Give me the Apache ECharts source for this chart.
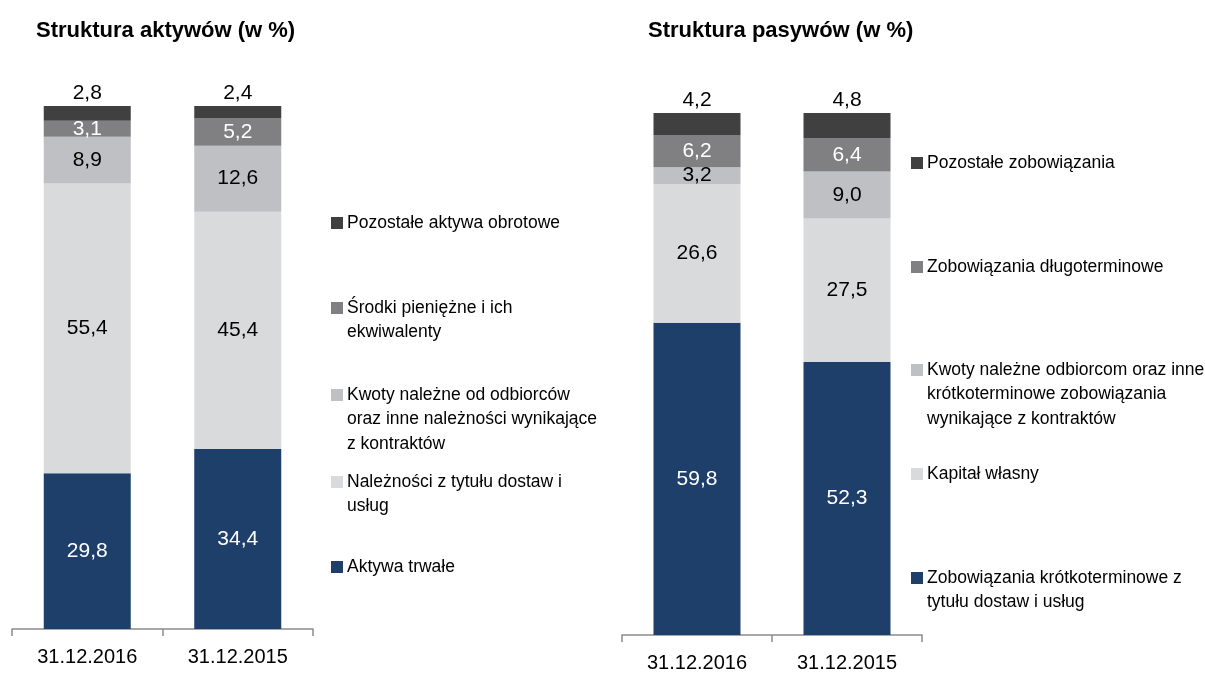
<!DOCTYPE html>
<html>
<head>
<meta charset="utf-8">
<script src="https://cdn.jsdelivr.net/npm/echarts@6/dist/echarts.min.js"></script>
<style>
  html, body { margin: 0; padding: 0; background: #fff; }
  #chart { width: 1205px; height: 673px; }
</style>
</head>
<body>
<div id="chart"></div>
<script>
// dane
const categories = ["31.12.2016", "31.12.2015"];

// aktywa (od dołu)
const aktywaTrwale = [29.8, 34.4];
const naleznosciDostawy = [55.4, 45.4];
const kwotyOdOdbiorcow = [8.9, 12.6];
const srodkiPieniezne = [3.1, 5.2];
const pozostaleAktywa = [2.8, 2.4];

// pasywa (od dołu)
const zobKrotkoterminowe = [59.8, 52.3];
const kapitalWlasny = [26.6, 27.5];
const kwotyOdbiorcom = [3.2, 9.0];
const zobDlugoterminowe = [6.2, 6.4];
const pozostaleZob = [4.2, 4.8];

const namesAktywa = [
  "Aktywa trwałe",
  "Należności z tytułu dostaw i\nusług",
  "Kwoty należne od odbiorców\noraz inne należności wynikające\nz kontraktów",
  "Środki pieniężne i ich\nekwiwalenty",
  "Pozostałe aktywa obrotowe",
];
const namesPasywa = [
  "Zobowiązania krótkoterminowe z\ntytułu dostaw i usług",
  "Kapitał własny",
  "Kwoty należne odbiorcom oraz inne\nkrótkoterminowe zobowiązania\nwynikające z kontraktów",
  "Zobowiązania długoterminowe",
  "Pozostałe zobowiązania",
];

const colors = ["#1f3f6b", "#d9dadc", "#bfc0c3", "#808083", "#404040"];
const labelColors = ["#fff", "#000", "#000", "#fff", "#000"];
const FONT = "'Liberation Sans', Arial, sans-serif";

const fmt = (p) => p.value.toFixed(1).replace(".", ",");

function makeSeries(names, datas, axisIdx, stack) {
  return datas.map((d, i) => ({
    name: names[i],
    type: "bar",
    stack: stack,
    xAxisIndex: axisIdx,
    yAxisIndex: axisIdx,
    barWidth: 87,
    data: d,
    itemStyle: { color: colors[i] },
    label: {
      show: true,
      position: i === 4 ? "top" : "inside",
      distance: 2,
      color: labelColors[i],
      fontFamily: FONT,
      fontSize: 21,
      formatter: fmt,
    },
  }));
}

// legenda: każda pozycja osobno, ikonka przy pierwszej linii
// (puste linie przed tekstem przesuwają pierwszą linię na wysokość ikonki)
const LH = 24.5;
function makeLegend(name, left, firstLineY) {
  const n = name.split("\n").length;
  return {
    data: [name],
    left: left,
    top: firstLineY - ((2 * n - 1) * LH) / 2,
    padding: 0,
    itemWidth: 12,
    itemHeight: 12,
    itemGap: 0,
    icon: "rect",
    selectedMode: false,
    formatter: (nm) => " \n".repeat(n - 1) + nm,
    textStyle: {
      fontFamily: FONT,
      fontSize: 17.5,
      color: "#000",
      lineHeight: LH,
      padding: [0, 0, 0, -1],
    },
  };
}

const legendAktywaY = [567, 482, 395, 308, 223];
const legendPasywaY = [578, 474, 370, 267, 163];

const legends = [];
namesAktywa.forEach((n, i) => legends.push(makeLegend(n, 331, legendAktywaY[i])));
namesPasywa.forEach((n, i) => legends.push(makeLegend(n, 911, legendPasywaY[i])));

const xAxisCommon = {
  type: "category",
  data: categories,
  axisLine: { lineStyle: { color: "#8c8c8c", width: 1.5 } },
  axisTick: { show: true, length: 7, lineStyle: { color: "#8c8c8c", width: 1.5 } },
  axisLabel: { color: "#000", fontFamily: FONT, fontSize: 20, margin: 18 },
};
const yAxisCommon = { type: "value", min: 0, max: 100, show: false, splitLine: { show: false } };

const titleStyle = { fontFamily: FONT, fontWeight: "bold", fontSize: 22, color: "#000" };

const option = {
  animation: false,
  title: [
    { text: "Struktura aktywów (w %)", left: 36, top: 20, padding: 0, textStyle: titleStyle },
    { text: "Struktura pasywów (w %)", left: 648, top: 20, padding: 0, textStyle: titleStyle },
  ],
  legend: legends,
  grid: [
    { left: 12, top: 106, width: 301, height: 523 },
    { left: 622, top: 113, width: 300, height: 523 },
  ],
  xAxis: [
    Object.assign({ gridIndex: 0 }, xAxisCommon),
    Object.assign({ gridIndex: 1 }, xAxisCommon),
  ],
  yAxis: [
    Object.assign({ gridIndex: 0 }, yAxisCommon),
    Object.assign({ gridIndex: 1 }, yAxisCommon),
  ],
  series: [
    ...makeSeries(namesAktywa, [aktywaTrwale, naleznosciDostawy, kwotyOdOdbiorcow, srodkiPieniezne, pozostaleAktywa], 0, "aktywa"),
    ...makeSeries(namesPasywa, [zobKrotkoterminowe, kapitalWlasny, kwotyOdbiorcom, zobDlugoterminowe, pozostaleZob], 1, "pasywa"),
  ],
};

const chart = echarts.init(document.getElementById("chart"));
chart.setOption(option);
window.addEventListener("resize", () => chart.resize());
</script>
</body>
</html>
